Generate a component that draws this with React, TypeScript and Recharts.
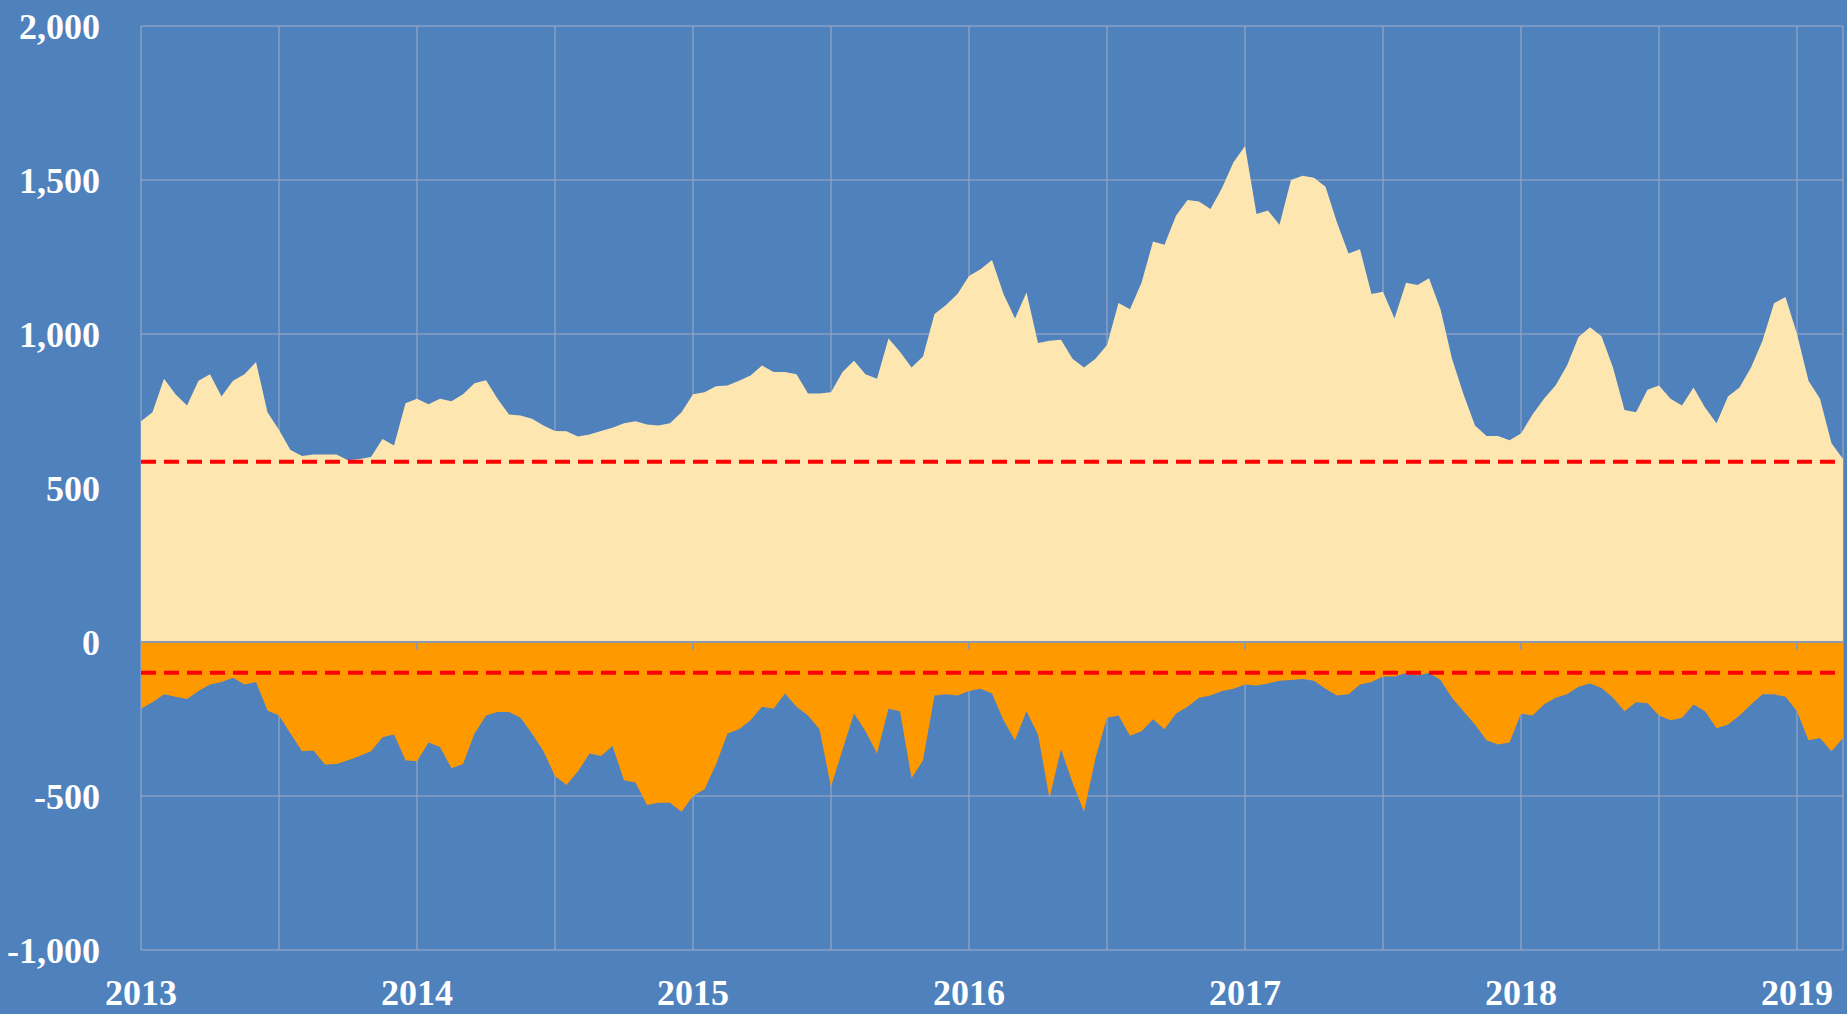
import React from 'react';
import { AreaChart, Area, XAxis, YAxis, CartesianGrid, ReferenceLine } from 'recharts';

// half-monthly readings, Jan 2013 .. Mar 2019
const START_YEAR = 2013;
const STEPS_PER_YEAR = 24;

const longPositions = [
  717, 746, 855, 804, 768, 848, 869, 797, 848, 869,
  909, 746, 688, 623, 604, 609, 609, 609, 590, 594,
  601, 659, 638, 775, 790, 772, 790, 782, 804, 840,
  850, 790, 739, 735, 725, 703, 685, 684,
  667, 674, 685, 696, 710, 717, 706, 703, 710, 746,
  804, 811, 830, 833, 848, 865, 898, 877, 877, 869,
  807, 807, 811, 877, 913, 869, 855, 985, 942, 891,
  927, 1065, 1094, 1130, 1188, 1210, 1240, 1130,
  1050, 1135, 971, 978, 981, 920, 891, 920, 964, 1101,
  1080, 1166, 1300, 1290, 1384, 1435, 1430, 1406, 1474, 1558,
  1610, 1390, 1401, 1355, 1500, 1514, 1507, 1478, 1362, 1261,
  1275, 1130, 1137, 1050, 1166, 1159, 1181,
  1080, 920, 804, 703, 669, 669, 655, 677, 739, 790,
  833, 898, 990, 1022, 993, 891, 753, 746, 819, 833,
  790, 768, 826, 761, 710, 797, 826, 891, 978, 1100,
  1120, 1000, 848, 790, 645, 594,
];

const shortPositions = [
  -217, -196, -170, -178, -185, -159, -138, -130, -116, -138,
  -130, -222, -239, -297, -355, -352, -398, -396, -384, -370,
  -355, -309, -300, -384, -387, -326, -341, -410, -396, -297,
  -239, -227, -227, -246, -297, -355, -435, -464,
  -420, -362, -370, -338, -449, -456, -529, -522, -522, -551,
  -500, -478, -398, -297, -283, -254, -210, -217, -167, -210,
  -239, -283, -470, -350, -232, -290, -362, -217, -225, -442,
  -384, -174, -170, -174, -159, -152, -167, -254,
  -319, -225, -300, -507, -348, -456, -551, -377, -246, -239,
  -304, -290, -251, -283, -232, -210, -181, -174, -159, -152,
  -138, -141, -135, -126, -123, -120, -126, -152, -174, -170,
  -138, -130, -112, -112, -101, -109, -101,
  -123, -181, -225, -268, -319, -333, -326, -232, -239, -203,
  -181, -170, -145, -135, -149, -181, -225, -196, -199, -239,
  -254, -246, -203, -225, -280, -268, -239, -203, -170, -170,
  -178, -225, -319, -312, -355, -312,
];

const yTicks = [-1000, -500, 0, 500, 1000, 1500, 2000];
const xTicks = [2013, 2013.5, 2014, 2014.5, 2015, 2015.5, 2016, 2016.5, 2017, 2017.5, 2018, 2018.5, 2019];
const yearTicks = [2014, 2015, 2016, 2017, 2018, 2019];
const longAverage = 585;
const shortAverage = -100;

const data = longPositions.map((v, i) => ({
  t: START_YEAR + i / STEPS_PER_YEAR,
  long: v,
  short: shortPositions[i],
}));

const lastT = START_YEAR + (longPositions.length - 1) / STEPS_PER_YEAR;

const tickStyle = {
  fill: '#ffffff',
  fontSize: 36,
  fontWeight: 'bold' as const,
  fontFamily: "'Liberation Serif', 'Times New Roman', serif",
};

export default function App() {
  return (
    <div style={{ position: 'absolute', left: 0, top: 0, width: 1847, height: 1014, background: '#4F81BD' }}>
      <AreaChart width={1847} height={1014} data={data} margin={{ top: 26, right: 4, left: 0, bottom: 0 }}>
        <CartesianGrid stroke="#A3AEC4" strokeWidth={1} />
        <XAxis
          dataKey="t"
          type="number"
          domain={[START_YEAR, lastT]}
          ticks={xTicks}
          interval={0}
          tickFormatter={(v: number) => (Number.isInteger(v) ? String(v) : '')}
          axisLine={false}
          tickLine={false}
          height={64}
          tickMargin={23}
          tick={tickStyle}
        />
        <YAxis
          domain={[-1000, 2000]}
          ticks={yTicks}
          interval={0}
          tickFormatter={(v: number) => v.toLocaleString('en-US')}
          axisLine={false}
          tickLine={false}
          width={141}
          tickMargin={35}
          tick={tickStyle}
        />
        <Area
          type="linear"
          dataKey="long"
          baseValue={0}
          stroke="none"
          fill="#FEE6B1"
          fillOpacity={1}
          isAnimationActive={false}
        />
        <Area
          type="linear"
          dataKey="short"
          baseValue={0}
          stroke="none"
          fill="#FF9900"
          fillOpacity={1}
          isAnimationActive={false}
        />
        <ReferenceLine y={0} stroke="#8F99AA" strokeWidth={2} />
        {yearTicks.map((yr) => (
          <ReferenceLine
            key={yr}
            segment={[{ x: yr, y: 0 }, { x: yr, y: -25 }]}
            stroke="#8F99AA"
            strokeWidth={2}
          />
        ))}
        <ReferenceLine y={longAverage} stroke="#FF0000" strokeWidth={4} strokeDasharray="15 8" />
        <ReferenceLine y={shortAverage} stroke="#FF0000" strokeWidth={4} strokeDasharray="15 8" />
      </AreaChart>
    </div>
  );
}
